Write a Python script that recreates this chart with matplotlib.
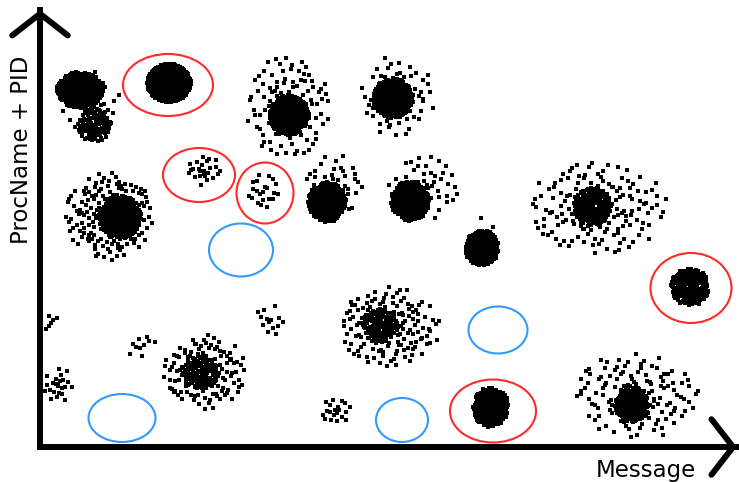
import numpy as np
import matplotlib.pyplot as plt
from matplotlib.patches import Ellipse

# dense cores of the point clouds (data units, origin at the axes corner)
core_x = [40, 54, 129, 249, 353, 80, 287, 370, 442, 552, 650, 340, 160, 451, 592]
core_y = [357, 322, 364, 332, 349, 230, 245, 246, 199, 240, 160, 122, 74, 40, 42]
core_rx = [23, 17, 22, 20, 20, 21, 19, 19, 17, 19, 19, 18, 18, 18, 17]
core_ry = [18, 17, 19, 20, 20, 22, 20, 20, 18, 20, 19, 17, 17, 20, 18]
core_n = [330, 90, 900, 290, 290, 310, 250, 250, 230, 170, 190, 120, 110, 220, 170]

# sparse halos / small scattered groups
halo_x = [50, 248, 358, 164, 222, 69, 295, 385, 445, 558, 350, 165, 101, 18, 10, 230, 296, 596]
halo_y = [345, 341, 351, 276, 255, 231, 262, 260, 210, 239, 120, 76, 102, 62, 129, 127, 35, 51]
halo_rx = [30, 42, 37, 18, 18, 44, 30, 37, 18, 70, 50, 42, 16, 16, 8, 16, 17, 63]
halo_ry = [32, 52, 42, 16, 18, 44, 30, 33, 22, 46, 40, 38, 12, 18, 14, 16, 15, 44]
halo_n = [40, 120, 75, 25, 22, 190, 50, 50, 10, 170, 160, 140, 10, 24, 6, 14, 20, 150]

# highlighted ellipses
red_x = [128, 159, 225, 651, 453]
red_y = [362, 272, 254, 159, 36]
red_w = [90, 72, 57, 81, 86]
red_h = [62, 54, 61, 70, 63]
blue_x = [201, 458, 82, 362]
blue_y = [197, 117, 29, 27]
blue_w = [64, 59, 67, 52]
blue_h = [53, 47, 48, 44]


def halton(idx, base):
    out = np.zeros(len(idx))
    f = 1.0
    i = idx.copy()
    while np.any(i > 0):
        f /= base
        out += f * (i % base)
        i //= base
    return out


def disc_points(n, rx, ry, start, power=1.0):
    # fill an ellipse with a Halton sequence, optionally packed towards the middle
    i = np.arange(start, start + int(n * 1.5) + 30)
    a = 2 * halton(i, 2) - 1
    b = 2 * halton(i, 3) - 1
    rr = np.hypot(a, b)
    keep = rr < 1
    a, b, rr = a[keep][:n], b[keep][:n], rr[keep][:n]
    scale = rr ** (power - 1)
    return rx * a * scale, ry * b * scale


fig = plt.figure(figsize=(7.39, 4.82), dpi=100)
ax = fig.add_axes([40 / 739, 35 / 482, 699 / 739, 437 / 482])
ax.set_xlim(0, 699)
ax.set_ylim(0, 437)

xs, ys = [], []
k = 1
for cx, cy, rx, ry, n in zip(core_x, core_y, core_rx, core_ry, core_n):
    dx, dy = disc_points(n, rx, ry, k * 1237)
    xs.append(cx + dx)
    ys.append(cy + dy)
    k += 1
for cx, cy, rx, ry, n in zip(halo_x, halo_y, halo_rx, halo_ry, halo_n):
    dx, dy = disc_points(n, rx, ry, k * 1237, power=1.4)
    xs.append(cx + dx)
    ys.append(cy + dy)
    k += 1
ax.scatter(np.concatenate(xs), np.concatenate(ys), s=5, marker='s', color='black', linewidths=0)

for x, y, w, h in zip(red_x, red_y, red_w, red_h):
    ax.add_patch(Ellipse((x, y), w, h, fill=False, edgecolor='#ff2a2a', lw=1.5))
for x, y, w, h in zip(blue_x, blue_y, blue_w, blue_h):
    ax.add_patch(Ellipse((x, y), w, h, fill=False, edgecolor='#3399ff', lw=1.5))

# axes as thick arrows
for s in ['top', 'right']:
    ax.spines[s].set_visible(False)
for s in ['left', 'bottom']:
    ax.spines[s].set_linewidth(4.3)
ax.set_xticks([])
ax.set_yticks([])
arrow = dict(arrowstyle='->,head_length=0.78,head_width=1.0', lw=4.3, color='black',
             shrinkA=0, shrinkB=0, mutation_scale=20)
ax.annotate('', xy=(0, 1), xytext=(0, 0.8), xycoords='axes fraction', arrowprops=arrow,
            annotation_clip=False)
ax.annotate('', xy=(0.997, 0), xytext=(0.8, 0), xycoords='axes fraction', arrowprops=arrow,
            annotation_clip=False)

ax.text(-0.026, 0.68, 'ProcName + PID', transform=ax.transAxes, rotation=90,
        ha='center', va='center', fontsize=16.5)
ax.text(0.867, -0.053, 'Message', transform=ax.transAxes,
        ha='center', va='center', fontsize=16.5)

fig.savefig('out.png', dpi=100)
